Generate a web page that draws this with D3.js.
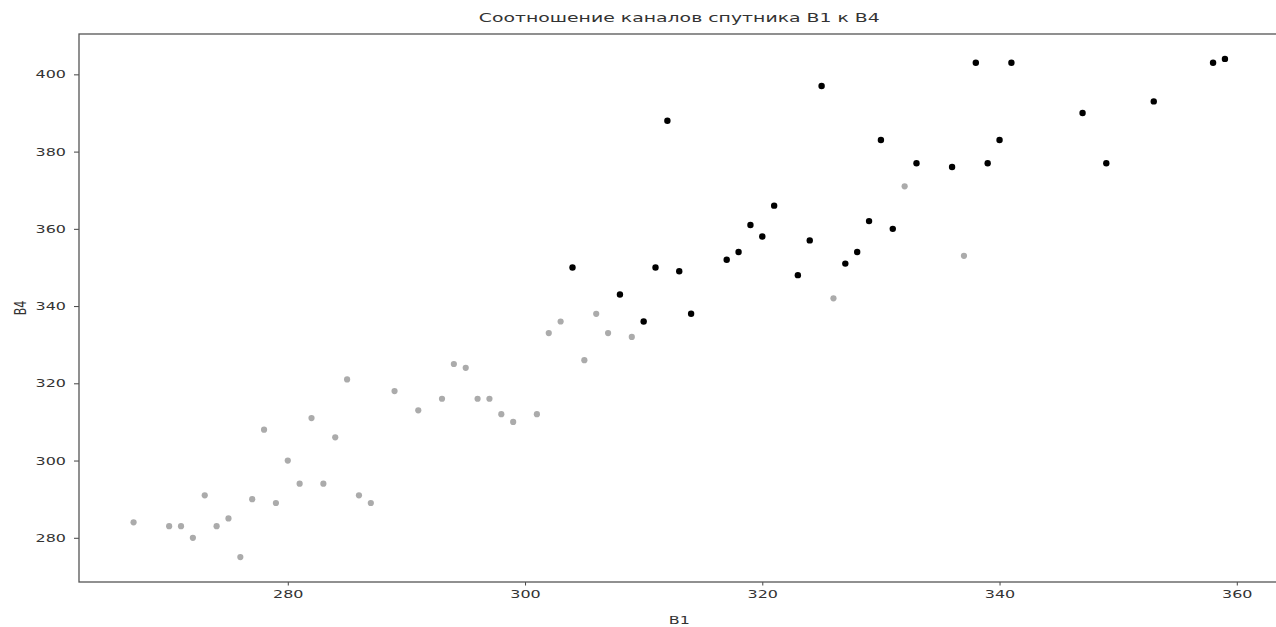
<!DOCTYPE html>
<html>
<head>
<meta charset="utf-8">
<script src="https://cdn.jsdelivr.net/npm/d3@7"></script>
<style>
  body { margin: 0; background: #fff; }
  svg { display: block; font-family: "DejaVu Sans", sans-serif; }
</style>
</head>
<body>
<svg width="1276" height="627"></svg>
<script>
// grey points (lower group)
const b1Low = [267, 270, 271, 272, 273, 274, 275, 276, 277, 278, 279, 280, 281, 282, 283, 284, 285, 286, 287,
    289, 291, 293, 294, 295, 296, 297, 298, 299, 301, 302, 303, 305, 306, 307, 309, 326, 332, 337];
const b4Low = [284, 283, 283, 280, 291, 283, 285, 275, 290, 308, 289, 300, 294, 311, 294, 306, 321, 291, 289,
    318, 313, 316, 325, 324, 316, 316, 312, 310, 312, 333, 336, 326, 338, 333, 332, 342, 371, 353];

// black points (upper group)
const b1High = [304, 308, 310, 311, 313, 314, 317, 318, 319, 320, 321, 323, 324, 327, 328, 329, 331, 333,
    312, 325, 330, 336, 338, 339, 340, 341, 347, 349, 353, 358, 359];
const b4High = [350, 343, 336, 350, 349, 338, 352, 354, 361, 358, 366, 348, 357, 351, 354, 362, 360, 377,
    388, 397, 383, 376, 403, 377, 383, 403, 390, 377, 393, 403, 404];

const xTicks = [280, 300, 320, 340, 360];
const yTicks = [280, 300, 320, 340, 360, 380, 400];

const svg = d3.select("svg");
const plotL = 79, plotT = 34, plotR = 1279.5, plotB = 582;
const stretch = 1.45; // the source picture is wider than tall, text looks stretched

const x = d3.scaleLinear().domain([262.4, 363.6]).range([plotL, plotR]);
const y = d3.scaleLinear().domain([268.55, 410.45]).range([plotB, plotT]);

const ptsLow = b1Low.map((v, i) => [v, b4Low[i]]);
const ptsHigh = b1High.map((v, i) => [v, b4High[i]]);

svg.append("g")
    .selectAll("circle")
    .data(ptsLow)
    .enter()
    .append("circle")
    .attr("cx", d => x(d[0]))
    .attr("cy", d => y(d[1]))
    .attr("r", 3.1)
    .attr("fill", "#ababab");

svg.append("g")
    .selectAll("circle")
    .data(ptsHigh)
    .enter()
    .append("circle")
    .attr("cx", d => x(d[0]))
    .attr("cy", d => y(d[1]))
    .attr("r", 3.2)
    .attr("fill", "#000");

// axes
const xAxis = svg.append("g")
    .attr("transform", `translate(0,${plotB})`)
    .call(d3.axisBottom(x).tickValues(xTicks).tickSize(3.5).tickPadding(5).tickSizeOuter(0));
const yAxis = svg.append("g")
    .attr("transform", `translate(${plotL},0)`)
    .call(d3.axisLeft(y).tickValues(yTicks).tickSize(5).tickPadding(8).tickSizeOuter(0));

[xAxis, yAxis].forEach(a => {
    a.select(".domain").remove();
    a.selectAll("line").attr("stroke", "#444");
    a.selectAll("text").attr("fill", "#333").style("font-size", "11px")
        .style("font-family", "DejaVu Sans, sans-serif");
});
xAxis.selectAll("text").attr("transform", `scale(${stretch},1)`);
yAxis.selectAll("text").attr("transform", `translate(-13,0) scale(${stretch},1) translate(13,0)`);

// frame
svg.append("rect")
    .attr("x", plotL).attr("y", plotT)
    .attr("width", plotR - plotL).attr("height", plotB - plotT)
    .attr("fill", "none")
    .attr("stroke", "#555")
    .attr("stroke-width", 1.3);

// labels
const cx = (plotL + plotR) / 2;
svg.append("text")
    .attr("transform", `translate(${cx},22) scale(${stretch},1)`)
    .attr("text-anchor", "middle")
    .attr("fill", "#333")
    .style("font-size", "13px")
    .text("Соотношение каналов спутника B1 к B4");

svg.append("text")
    .attr("transform", `translate(${cx},624) scale(${stretch},1)`)
    .attr("text-anchor", "middle")
    .attr("fill", "#333")
    .style("font-size", "11px")
    .text("B1");

svg.append("text")
    .attr("transform", `translate(26,${(plotT + plotB) / 2}) scale(${stretch},1) rotate(-90)`)
    .attr("text-anchor", "middle")
    .attr("fill", "#333")
    .style("font-size", "11px")
    .text("B4");
</script>
</body>
</html>
